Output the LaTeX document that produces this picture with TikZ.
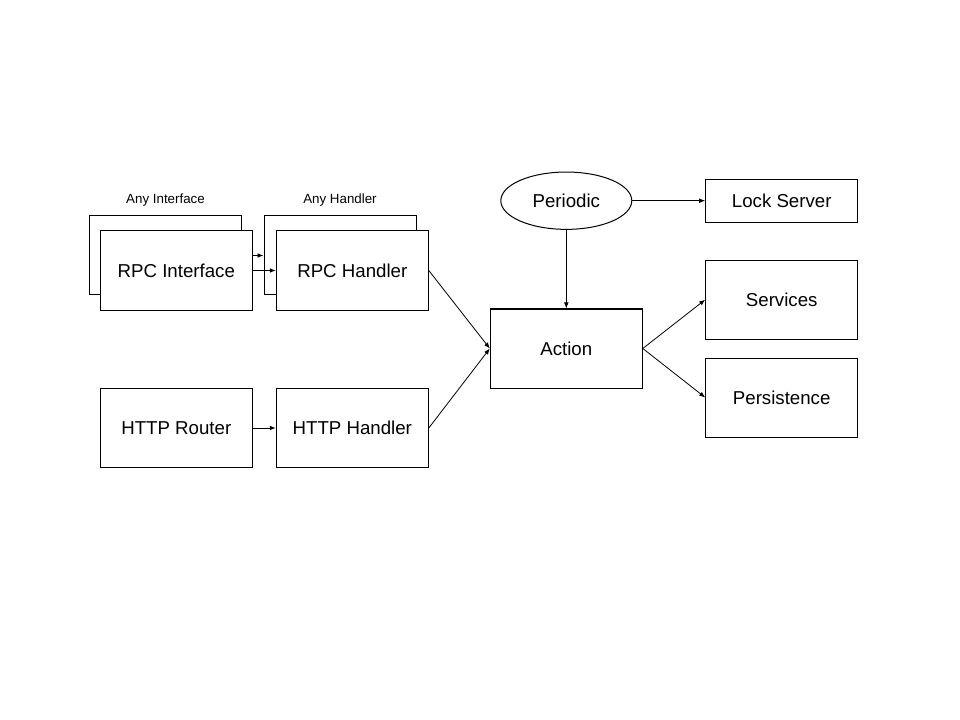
\documentclass[tikz,border=0pt]{standalone}
\usepackage{fontspec}
\setmainfont{Liberation Sans}
\usetikzlibrary{arrows.meta}
\usetikzlibrary{shapes.geometric}

\begin{document}
\begin{tikzpicture}[
    x=0.75pt, y=-0.75pt,
    >={Latex[length=4.5pt,width=3.5pt]},
    % Estilo para las cajas
    box/.style={
        draw=black,
        line width=0.75pt,
        fill=white,
        minimum width=114pt,
        minimum height=59.25pt,
        inner sep=0pt,
        font=\fontsize{14}{16}\selectfont
    },
    % Estilo para las flechas
    conn/.style={
        draw=black,
        line width=0.6pt,
        ->
    },
    tag/.style={font=\fontsize{10}{12}\selectfont}
]

    \useasboundingbox (0,0) rectangle (960,720);

    % --- 1. ENTRADAS (RPC y HTTP) ---
    \node[box] (anyif) at (165.5,255.5) {};
    \node[box] (anyhd) at (340,255.5) {};
    \draw[conn] (anyif.east) -- (anyhd.west);

    \node[box] (rpcif) at (176.3,270.5) {RPC Interface};
    \node[box] (rpchd) at (352.3,270.5) {RPC Handler};

    \node[tag] (anyiftag) at (165.5,200.5) {Any Interface};
    \node[tag] (anyhdtag) at (340,200.5) {Any Handler};

    \node[box] (router) at (176.3,428) {HTTP Router};
    \node[box] (httphd) at (352.3,428) {HTTP Handler};

    % --- 2. NUCLEO ---
    \node[box] (action) at (566.3,348.5) {Action};
    \node[draw, ellipse, line width=0.75pt, minimum width=98.25pt, minimum height=43pt,
        inner sep=0pt, font=\fontsize{14}{16}\selectfont] (periodic) at (566.3,200.7) {Periodic};

    % --- 3. SALIDAS ---
    \node[box, minimum height=32pt] (lock) at (781.7,200.7) {Lock Server};
    \node[box] (services) at (781.7,299.7) {Services};
    \node[box] (persist) at (781.7,397.5) {Persistence};

    % --- 4. FLECHAS ---
    \draw[conn] (rpcif.east) -- (rpchd.west);
    \draw[conn] (router.east) -- (httphd.west);
    \draw[conn] (rpchd.east) -- (action.west);
    \draw[conn] (httphd.east) -- (action.west);
    \draw[conn] (periodic.east) -- (lock.west);
    \draw[conn] (periodic.south) -- (action.north);
    \draw[conn] (action.east) -- (services.west);
    \draw[conn] (action.east) -- (persist.west);

\end{tikzpicture}
\end{document}
